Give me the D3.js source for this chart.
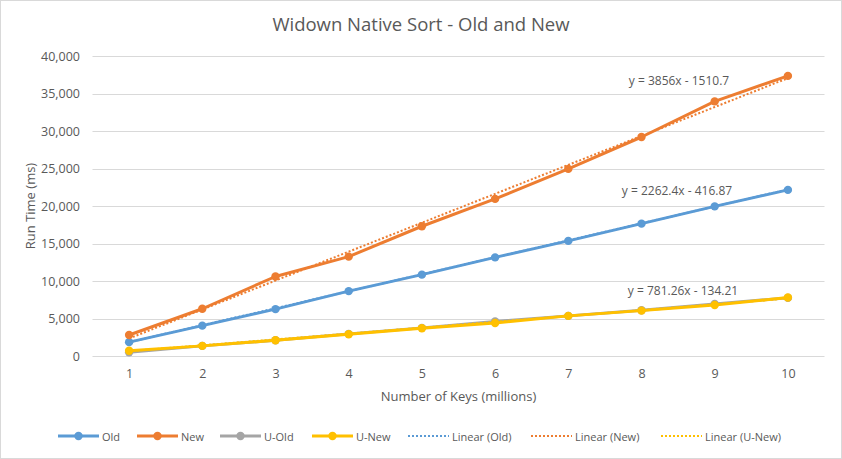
<!DOCTYPE html>
<html>
<head>
<meta charset="utf-8">
<script src="https://cdn.jsdelivr.net/npm/d3@7"></script>
<style>
  body { margin: 0; background: #fff; }
  text { font-family: "Open Sans", "Noto Sans", sans-serif; fill: #595959; }
</style>
</head>
<body>
<svg id="chart" width="842" height="459"></svg>
<script>
// data
const keys = [1, 2, 3, 4, 5, 6, 7, 8, 9, 10];
const oldTimes = [1850, 4050, 6250, 8650, 10850, 13150, 15350, 17650, 19950, 22150];
const newTimes = [2800, 6300, 10600, 13250, 17300, 20950, 24950, 29200, 33950, 37350];
const uOldTimes = [500, 1350, 2100, 2950, 3750, 4600, 5350, 6100, 6950, 7750];
const uNewTimes = [700, 1350, 2100, 2900, 3700, 4400, 5350, 6050, 6800, 7800];
const yTicks = [0, 5000, 10000, 15000, 20000, 25000, 30000, 35000, 40000];

// trendline coefficients as printed on the chart
const trendNames = ['Old', 'New', 'U-New'];
const trendSlopes = [2262.4, 3856, 781.26];
const trendIntercepts = [-416.87, -1510.7, -134.21];

const series = [
  { name: 'Old', values: oldTimes, color: '#5B9BD5' },
  { name: 'New', values: newTimes, color: '#ED7D31' },
  { name: 'U-Old', values: uOldTimes, color: '#A5A5A5' },
  { name: 'U-New', values: uNewTimes, color: '#FFC000' }
];
const colorOf = {};
series.forEach(s => { colorOf[s.name] = s.color; });

const svg = d3.select('#chart');
const W = 842, H = 459;
const plot = { left: 92.5, right: 824.5, top: 56, bottom: 356 };

// outer frame
svg.append('rect')
  .attr('x', 0.5).attr('y', 0.5)
  .attr('width', W - 1).attr('height', H - 1)
  .attr('fill', '#fff').attr('stroke', '#d9d9d9');

const x = d3.scalePoint().domain(keys).range([plot.left, plot.right]).padding(0.5);
const y = d3.scaleLinear().domain([0, 40000]).range([plot.bottom, plot.top]);

// gridlines
svg.append('g').selectAll('line').data(yTicks).enter().append('line')
  .attr('x1', plot.left).attr('x2', plot.right)
  .attr('y1', d => Math.round(y(d)) + 0.5).attr('y2', d => Math.round(y(d)) + 0.5)
  .attr('stroke', '#d9d9d9').attr('stroke-width', 1);

// y axis labels
const yAxis = d3.axisLeft(y).tickValues(yTicks).tickFormat(d3.format(',')).tickSize(0).tickPadding(0);
const yg = svg.append('g').attr('transform', `translate(${80},0)`).call(yAxis);
yg.select('.domain').remove();
yg.selectAll('text').attr('font-size', 12.5).style('font-family', '"Open Sans", sans-serif').attr('fill', '#595959');

// x axis labels
const xAxis = d3.axisBottom(x).tickSize(0).tickPadding(0);
const xg = svg.append('g').attr('transform', `translate(0,${369})`).call(xAxis);
xg.select('.domain').remove();
xg.selectAll('text').attr('font-size', 12.5).style('font-family', '"Open Sans", sans-serif').attr('fill', '#595959');

// titles
svg.append('text').attr('x', 421).attr('y', 31).attr('text-anchor', 'middle')
  .attr('font-size', 18.5).text('Widown Native Sort - Old and New');
svg.append('text').attr('x', (plot.left + plot.right) / 2).attr('y', 401).attr('text-anchor', 'middle')
  .attr('font-size', 13).text('Number of Keys (millions)');
svg.append('text').attr('transform', `translate(35,${(plot.top + plot.bottom) / 2}) rotate(-90)`)
  .attr('text-anchor', 'middle').attr('font-size', 13).text('Run Time (ms)');

// series lines + markers
const line = d3.line().x((d, i) => x(keys[i])).y(d => y(d));
series.forEach(s => {
  const g = svg.append('g');
  g.append('path').attr('d', line(s.values))
    .attr('fill', 'none').attr('stroke', s.color).attr('stroke-width', 3)
    .attr('stroke-linejoin', 'round').attr('stroke-linecap', 'round');
  g.selectAll('circle').data(s.values).enter().append('circle')
    .attr('cx', (d, i) => x(keys[i])).attr('cy', d => y(d)).attr('r', 4.2)
    .attr('fill', s.color);
});

// linear trendlines
trendNames.forEach((name, k) => {
  const pts = keys.map(kx => trendSlopes[k] * kx + trendIntercepts[k]);
  svg.append('path').attr('d', line(pts))
    .attr('fill', 'none').attr('stroke', colorOf[name]).attr('stroke-width', 2)
    .attr('stroke-dasharray', '2,2');
});

// trendline equations
const eqPos = [[677, 195], [679, 85], [683, 295]];
const fmt = v => (v < 0 ? ' - ' : ' + ') + Math.abs(v);
trendNames.forEach((name, k) => {
  svg.append('text').attr('x', eqPos[k][0]).attr('y', eqPos[k][1]).attr('text-anchor', 'middle')
    .attr('font-size', 12).text(`y = ${trendSlopes[k]}x${fmt(trendIntercepts[k])}`);
});

// legend
const legendItems = [
  { label: 'Old', color: colorOf['Old'], dotted: false, x0: 58 },
  { label: 'New', color: colorOf['New'], dotted: false, x0: 137 },
  { label: 'U-Old', color: colorOf['U-Old'], dotted: false, x0: 220 },
  { label: 'U-New', color: colorOf['U-New'], dotted: false, x0: 312 },
  { label: 'Linear (Old)', color: colorOf['Old'], dotted: true, x0: 408 },
  { label: 'Linear (New)', color: colorOf['New'], dotted: true, x0: 531 },
  { label: 'Linear (U-New)', color: colorOf['U-New'], dotted: true, x0: 661 }
];
const ly = 436;
const lg = svg.append('g').selectAll('g').data(legendItems).enter().append('g');
lg.append('line')
  .attr('x1', d => d.x0).attr('x2', d => d.x0 + 41)
  .attr('y1', ly).attr('y2', ly)
  .attr('stroke', d => d.color)
  .attr('stroke-width', d => d.dotted ? 2 : 3)
  .attr('stroke-dasharray', d => d.dotted ? '2,2' : null);
lg.filter(d => !d.dotted).append('circle')
  .attr('cx', d => d.x0 + 20.5).attr('cy', ly).attr('r', 4.2).attr('fill', d => d.color);
lg.append('text')
  .attr('x', d => d.x0 + 44).attr('y', ly + 4.5)
  .attr('font-size', 11).text(d => d.label);
</script>
</body>
</html>
